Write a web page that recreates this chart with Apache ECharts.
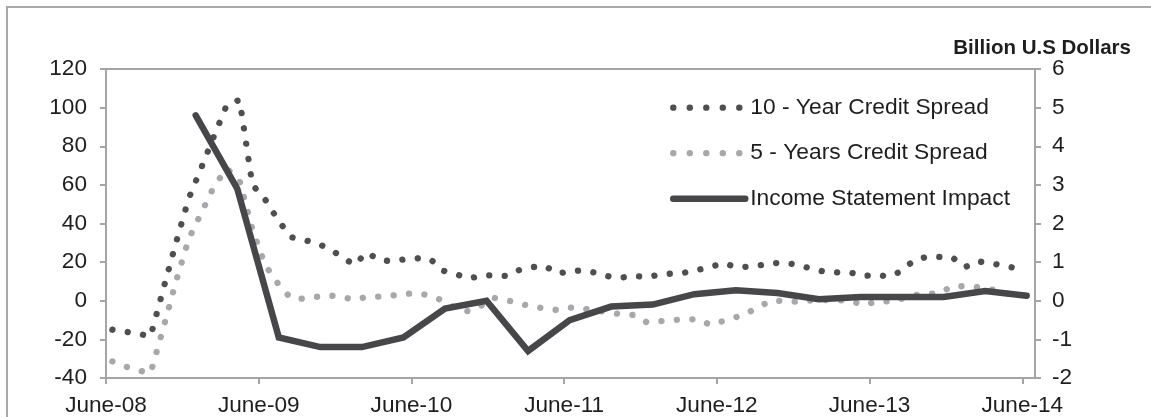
<!DOCTYPE html>
<html>
<head>
<meta charset="utf-8">
<script src="https://cdn.jsdelivr.net/npm/echarts@6/dist/echarts.min.js"></script>
<style>
  html, body { margin: 0; padding: 0; background: #ffffff; }
  #chart { width: 1151px; height: 417px; }
</style>
</head>
<body>
<div id="chart"></div>
<script>
// Month axis: index 0 = June-08 ... 72 = June-14, one label per year
const monthTicks = [0, 12, 24, 36, 48, 60, 72];
const tickLabels = ['June-08', 'June-09', 'June-10', 'June-11', 'June-12', 'June-13', 'June-14'];

const seriesNames = ['10 - Year Credit Spread', '5 - Years Credit Spread', 'Income Statement Impact'];

// Monthly credit spreads (basis points), June-08 onwards
const tenYearSpread = [
  -15, -16, -17, -18.5, 6, 30, 53, 69, 85.5, 101.5, 104, 60,
  52.5, 42, 33, 31.5, 30, 27, 23, 18.5, 25, 21, 20.5, 21.5,
  22, 21.5, 15.5, 13.8, 11.5, 13, 13.2, 12.8, 16, 17.4, 18, 14,
  15.5, 15.6, 14.5, 12.6, 12, 12.9, 12.2, 13.5, 14.1, 14.6, 16, 17.4,
  19.5, 17.5, 17.6, 18.5, 19.5, 19.5, 18.4, 16.4, 15, 14.7, 14.6, 12.8,
  13.5, 12.5, 15.3, 21, 22.7, 22.7, 22.5, 17.4, 20.4, 19.6, 18, 17
];
const fiveYearSpread = [
  -31.4, -34, -36, -37.5, -14.3, 10, 32, 45.6, 59.4, 68.5, 62, 37,
  18.5, 9, 1.5, 1, 2, 2.8, 2, 0.5, 2, 2.2, 2.7, 3.5,
  4, 2.5, 0, -4, -5.5, -2.5, 1.5, 0.3, -1.5, -3, -4, -4.8,
  -3.5, -4.2, -5, -6, -7, -7.4, -11.2, -10.6, -10, -9.6, -9.6, -12.5,
  -10.5, -8.5, -6, -2.3, 0.3, -0.6, -0.3, 0.2, 0.4, 0.3, 0, -2.2,
  -0.5, -0.3, 1, 3, 3.4, 4, 7.5, 7.5, 7, 6, 4.3, 2.7
];

// Quarterly income statement impact (billion U.S dollars)
const incomeImpact = [
  4.8, 2.9, -0.95, -1.2, -1.2, -0.95, -0.2, 0.0, -1.3, -0.5, -0.15,
  -0.1, 0.17, 0.27, 0.2, 0.04, 0.1, 0.1, 0.1, 0.25, 0.13
];

const FONT = "'Liberation Sans', Arial, Helvetica, sans-serif";
const TEXT = '#1e1e1e';
const AXIS = '#a5a5a5';
const DARK_DOT = '#4f4f50';
const LIGHT_DOT = '#a8a8ab';
const SOLID = '#47474a';

// monthly points sit in the middle of each month slot
const monthly = (arr) => arr.map((v, i) => [i + 0.5, v]);

const chart = echarts.init(document.getElementById('chart'), null, { renderer: 'canvas' });

chart.setOption({
  animation: false,
  backgroundColor: '#ffffff',
  graphic: [
    {
      type: 'rect',
      shape: { x: 7, y: 7, width: 1200, height: 500 },
      style: { fill: 'none', stroke: '#a8a8a8', lineWidth: 2 },
      silent: true
    },
    {
      type: 'text',
      style: {
        text: 'Billion U.S Dollars',
        x: 1131, y: 48,
        align: 'right', verticalAlign: 'middle',
        font: 'bold 20.5px ' + FONT,
        fill: TEXT
      },
      silent: true
    }
  ],
  grid: {
    left: 106, right: 116, top: 69, bottom: 38,
    show: true, borderColor: AXIS, borderWidth: 2,
    containLabel: false
  },
  legend: {
    orient: 'vertical',
    left: 670, top: 96.2,
    padding: 0,
    itemWidth: 72, itemHeight: 23, itemGap: 22.5,
    itemStyle: { color: 'rgba(0,0,0,0)', borderWidth: 0, opacity: 0 },
    textStyle: { fontFamily: FONT, fontSize: 22.8, color: TEXT, lineHeight: 23 },
    data: [
      { name: seriesNames[0], lineStyle: { color: DARK_DOT, width: 6.3, type: [0.1, 16.4], cap: 'round' } },
      { name: seriesNames[1], lineStyle: { color: LIGHT_DOT, width: 6.3, type: [0.1, 16.4], cap: 'round' } },
      { name: seriesNames[2], lineStyle: { color: SOLID, width: 6.5, type: 'solid', cap: 'round' } }
    ]
  },
  xAxis: [
    {
      type: 'value', min: 0, max: 73,
      axisLine: { show: true, onZero: false, lineStyle: { color: AXIS, width: 2 } },
      axisTick: { show: true, length: 6, customValues: monthTicks, lineStyle: { color: AXIS, width: 2 } },
      axisLabel: {
        customValues: monthTicks,
        formatter: (v) => { const k = monthTicks.indexOf(v); return k >= 0 ? tickLabels[k] : ''; },
        margin: 16, fontFamily: FONT, fontSize: 22.6, color: TEXT
      },
      splitLine: { show: false }
    },
    {
      // quarterly positions for the income series
      type: 'value', show: false, min: -2.159, max: 20.2,
      axisLine: { show: false, onZero: false },
      splitLine: { show: false }
    }
  ],
  yAxis: [
    {
      type: 'value', min: -40, max: 120, interval: 20, position: 'left',
      axisLine: { show: true, onZero: false, lineStyle: { color: AXIS, width: 2 } },
      axisTick: { show: true, length: 6, lineStyle: { color: AXIS, width: 2 } },
      axisLabel: { margin: 19, fontFamily: FONT, fontSize: 22.6, color: TEXT },
      splitLine: { show: false }
    },
    {
      type: 'value', min: -2, max: 6, interval: 1, position: 'right',
      axisLine: { show: true, onZero: false, lineStyle: { color: AXIS, width: 2 } },
      axisTick: { show: true, length: 6, lineStyle: { color: AXIS, width: 2 } },
      axisLabel: { margin: 17, fontFamily: FONT, fontSize: 22.6, color: TEXT },
      splitLine: { show: false }
    }
  ],
  series: [
    {
      name: seriesNames[0], type: 'line', xAxisIndex: 0, yAxisIndex: 0,
      data: monthly(tenYearSpread),
      symbol: 'none', smooth: false,
      lineStyle: { color: DARK_DOT, width: 6.3, type: [0.1, 15.4], cap: 'round', join: 'round' },
      itemStyle: { color: DARK_DOT },
      z: 2
    },
    {
      name: seriesNames[1], type: 'line', xAxisIndex: 0, yAxisIndex: 0,
      data: monthly(fiveYearSpread),
      symbol: 'none', smooth: false,
      lineStyle: { color: LIGHT_DOT, width: 6.3, type: [0.1, 15.4], cap: 'round', join: 'round' },
      itemStyle: { color: LIGHT_DOT },
      z: 1
    },
    {
      name: seriesNames[2], type: 'line', xAxisIndex: 1, yAxisIndex: 1,
      data: incomeImpact.map((v, i) => [i, v]),
      symbol: 'none', smooth: false,
      lineStyle: { color: SOLID, width: 6.5, cap: 'round', join: 'miter' },
      itemStyle: { color: SOLID },
      z: 3
    }
  ]
});
</script>
</body>
</html>
